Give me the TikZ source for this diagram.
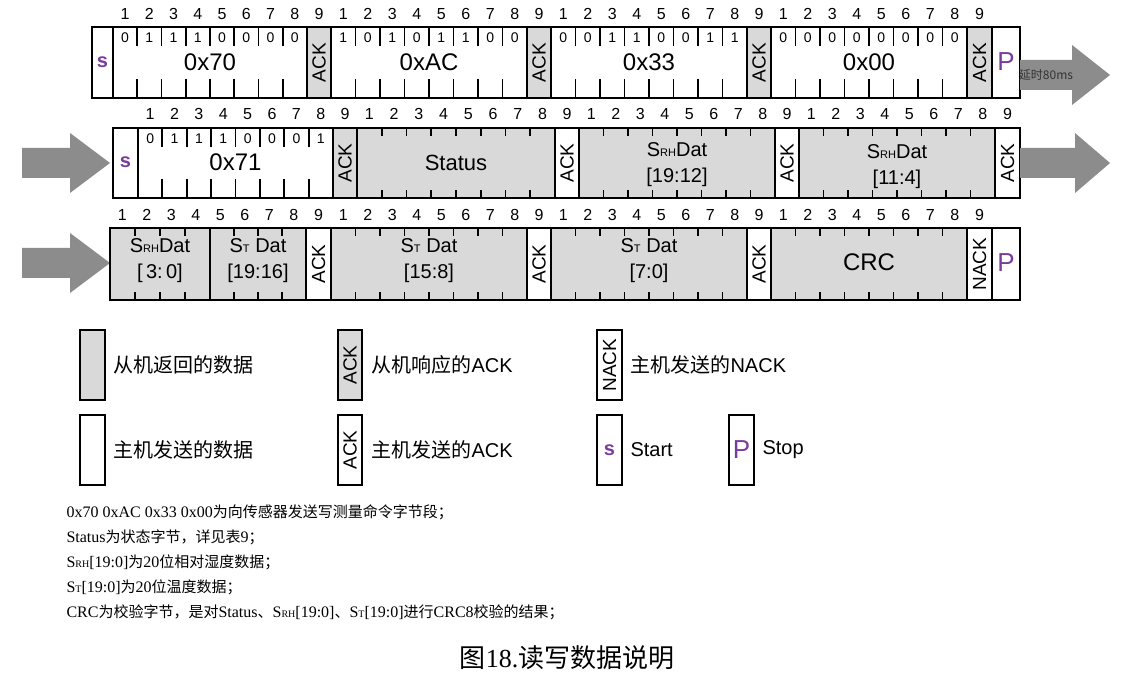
\documentclass[tikz,border=0pt]{standalone}
\usepackage{fontspec}
\setmainfont{Liberation Serif}
\setsansfont{Liberation Sans}
\newfontfamily\cjk{Noto Sans CJK SC}
\definecolor{cellgray}{HTML}{D9D9D9}
\definecolor{arrowgray}{HTML}{8C8C8C}
\definecolor{sp}{HTML}{7A3C9A}
\newcommand{\fs}[1]{\fontsize{#1}{#1}\selectfont}
\newcommand{\ticks}[6]{% x1 x2 top bot n len
  \foreach \i in {1,...,\numexpr#5-1\relax}{
    \pgfmathsetmacro\xx{#1+(#2-#1)*\i/#5}
    \draw[tick] (\xx,#3)--(\xx,#3+#6) (\xx,#4)--(\xx,#4-#6);}}
\newcommand{\nums}[4]{% x1 x2 of 8 bits, ack center, y
  \foreach \i in {1,...,8}{
    \pgfmathsetmacro\xx{#1+(#2-#1)*(\i-0.5)/8}
    \node[num] at (\xx,#4) {\i};}
  \node[num] at (#3,#4) {9};}
\newcommand{\bits}[4]{% x1 x2 y list
  \edef\bitlist{#4}%
  \foreach \v [count=\i] in \bitlist{
    \pgfmathsetmacro\xx{#1+(#2-#1)*(\i-0.5)/8}
    \node[bitv] at (\xx,#3) {\v};}}
\newcommand{\cellbox}[5]{\draw[cellline,fill=#5] (#1,#3) rectangle (#2,#4);}
\newcommand{\ackbox}[6]{\draw[cellline,fill=#5] (#1,#3) rectangle (#2,#4);
  \node[ack] at ({(#1+#2)/2},{(#3+#4)/2}) {#6};}
\begin{document}
\begin{tikzpicture}[x=1pt,y=-1pt,
  cellline/.style={line width=1.6pt},
  outer/.style={line width=2.4pt},
  tick/.style={line width=1.8pt},
  num/.style={font=\sffamily\fs{16}},
  bitv/.style={font=\sffamily\fs{14}},
  big/.style={font=\sffamily\fs{24}},
  mid/.style={font=\sffamily\fs{20},align=center},
  ack/.style={font=\sffamily\fs{19},rotate=90},
  blockarrow/.style={fill=arrowgray,draw=none},
  leg/.style={font=\sffamily\fs{20},anchor=west},
  note/.style={font=\fs{16},anchor=west},
]
\useasboundingbox (0,0) rectangle (1126,700);
\fill[white] (0,0) rectangle (1126,700);
% ---------- Row 1 ----------
\def\T{27}\def\B{98}
\cellbox{92}{113}{\T}{\B}{white}
\node[font=\sffamily\bfseries\fs{20},text=sp] (s1) at (102.5,62) {s};
\foreach \a/\b/\lab/\vals in {113/307/0x70/{0,1,1,1,0,0,0,0},331/527/0xAC/{1,0,1,0,1,1,0,0},551/747/0x33/{0,0,1,1,0,0,1,1},771/967/0x00/{0,0,0,0,0,0,0,0}}{
  \cellbox{\a}{\b}{\T}{\B}{white}
  \ticks{\a}{\b}{\T}{\B}{8}{19}
  \bits{\a}{\b}{38}{\vals}
  \node[big] at ({(\a+\b)/2},62) {\lab};
}
\foreach \a/\b in {307/331,527/551,747/771,967/992}{\ackbox{\a}{\b}{\T}{\B}{cellgray}{ACK}}
\cellbox{992}{1020}{\T}{\B}{white}
\node[font=\sffamily\fs{26},text=sp] (p1) at (1006,62) {P};
\draw[outer] (92,\T) rectangle (1020,\B);
\nums{113}{307}{319}{14}\nums{331}{527}{539}{14}\nums{551}{747}{759}{14}\nums{771}{967}{979.5}{14}
\fill[blockarrow] (1020,60)--(1072,60)--(1072,45)--(1110,75)--(1072,105)--(1072,90)--(1020,90)--cycle;
\node[font=\cjk\fs{12},text=black!80] (d1) at (1046,75) {延时80ms};
% ---------- Row 2 ----------
\def\T{128}\def\B{198}
\fill[blockarrow] (22,148)--(70,148)--(70,133)--(110,163)--(70,193)--(70,178)--(22,178)--cycle;
\cellbox{113}{138}{\T}{\B}{white}
\node[font=\sffamily\bfseries\fs{20},text=sp] (s2) at (125.5,162) {s};
\cellbox{138}{333}{\T}{\B}{white}
\ticks{138}{333}{\T}{\B}{8}{19}
\bits{138}{333}{139}{0,1,1,1,0,0,0,1}
\node[big] (b71) at (235.5,162) {0x71};
\ackbox{333}{357}{\T}{\B}{cellgray}{ACK}
\foreach \a/\b in {357/555,579/775,799/995}{\cellbox{\a}{\b}{\T}{\B}{cellgray}\ticks{\a}{\b}{\T}{\B}{8}{8}}
\node[mid,font=\sffamily\fs{22}] (st) at (456,163) {Status};
\node[mid] (rh1) at (677,150) {S{\fs{11}RH}Dat};
\node[mid] (rh1b) at (677,177) {[19:12]};
\node[mid] (rh2) at (897,152) {S{\fs{11}RH}Dat};
\node[mid] (rh2b) at (897,179) {[11:4]};
\foreach \a/\b in {555/579,775/799,995/1020}{\ackbox{\a}{\b}{\T}{\B}{white}{ACK}}
\draw[outer] (113,\T) rectangle (1020,\B);
\nums{138}{333}{345}{114}\nums{357}{555}{567}{114}\nums{579}{775}{787}{114}\nums{799}{995}{1007.5}{114}
\fill[blockarrow] (1020,148)--(1075,148)--(1075,133)--(1110,163)--(1075,193)--(1075,178)--(1020,178)--cycle;
% ---------- Row 3 ----------
\def\T{228}\def\B{300}
\fill[blockarrow] (22,248)--(70,248)--(70,233)--(110,263)--(70,293)--(70,278)--(22,278)--cycle;
\foreach \a/\b in {110/210,210/306}{\cellbox{\a}{\b}{\T}{\B}{cellgray}\ticks{\a}{\b}{\T}{\B}{4}{8}}
\foreach \a/\b in {331/527,551/747,771/967}{\cellbox{\a}{\b}{\T}{\B}{cellgray}\ticks{\a}{\b}{\T}{\B}{8}{8}}
\node[mid] (r3a) at (160,246) {S{\fs{11}RH}Dat};
\node[mid] (r3ab) at (160,273) {[\,3:\,0]};
\node[mid] (r3b) at (258,246) {S{\fs{11}T} Dat};
\node[mid] (r3bb) at (258,273) {[19:16]};
\node[mid] (r3c) at (429,246) {S{\fs{11}T} Dat};
\node[mid] (r3cb) at (429,273) {[15:8]};
\node[mid] (r3d) at (649,246) {S{\fs{11}T} Dat};
\node[mid] (r3db) at (649,273) {[7:0]};
\node[big] (crc) at (869,262) {CRC};
\foreach \a/\b in {306/331,527/551,747/771}{\ackbox{\a}{\b}{\T}{\B}{white}{ACK}}
\ackbox{967}{992}{\T}{\B}{white}{NACK}
\cellbox{992}{1020}{\T}{\B}{white}
\node[font=\sffamily\fs{26},text=sp] (p3) at (1006,263) {P};
\draw[outer] (110,\T) rectangle (1020,\B);
\nums{110}{306}{318.5}{215}\nums{331}{527}{539}{215}\nums{551}{747}{759}{215}\nums{771}{967}{979.5}{215}
% ---------- Legend ----------
\cellbox{80}{105}{330}{400}{cellgray}
\node[leg] (l1) at (110,365) {\cjk 从机返回的数据};
\ackbox{338}{362}{330}{400}{cellgray}{ACK}
\node[leg] (l2) at (368,365) {\cjk 从机响应的\sffamily ACK};
\ackbox{597}{622}{330}{400}{white}{NACK}
\node[leg] (l3) at (627,365) {\cjk 主机发送的\sffamily NACK};
\cellbox{80}{105}{415}{485}{white}
\node[leg] (l4) at (110,450) {\cjk 主机发送的数据};
\ackbox{338}{362}{415}{485}{white}{ACK}
\node[leg] (l5) at (368,450) {\cjk 主机发送的\sffamily ACK};
\cellbox{597}{622}{415}{485}{white}
\node[font=\sffamily\bfseries\fs{20},text=sp] (ls) at (609.5,450) {s};
\node[leg] (l6) at (627,450) {Start};
\cellbox{729}{754}{415}{485}{white}
\node[font=\sffamily\fs{26},text=sp] (lp) at (741.5,450) {P};
\node[leg] (l7) at (759,450) {Stop};
% ---------- Notes ----------
\node[note] (n1) at (63,512) {0x70 0xAC 0x33 0x00{\cjk\fs{15}为向传感器发送写测量命令字节段；}};
\node[note] (n2) at (63,537) {Status{\cjk\fs{15}为状态字节，详见表}9{\cjk\fs{15}；}};
\node[note] (n3) at (63,562) {S{\fs{10}RH}[19:0]{\cjk\fs{15}为}20{\cjk\fs{15}位相对湿度数据；}};
\node[note] (n4) at (63,587) {S{\fs{10}T}[19:0]{\cjk\fs{15}为}20{\cjk\fs{15}位温度数据；}};
\node[note] (n5) at (63,612) {CRC{\cjk\fs{15}为校验字节，是对}Status{\cjk\fs{15}、}S{\fs{10}RH}[19:0]{\cjk\fs{15}、}S{\fs{10}T}[19:0]{\cjk\fs{15}进行}CRC8{\cjk\fs{15}校验的结果；}};
\node[font=\fs{26}] (cap) at (567,658) {{\cjk 图}18.{\cjk 读写数据说明}};
\end{tikzpicture}
\end{document}
